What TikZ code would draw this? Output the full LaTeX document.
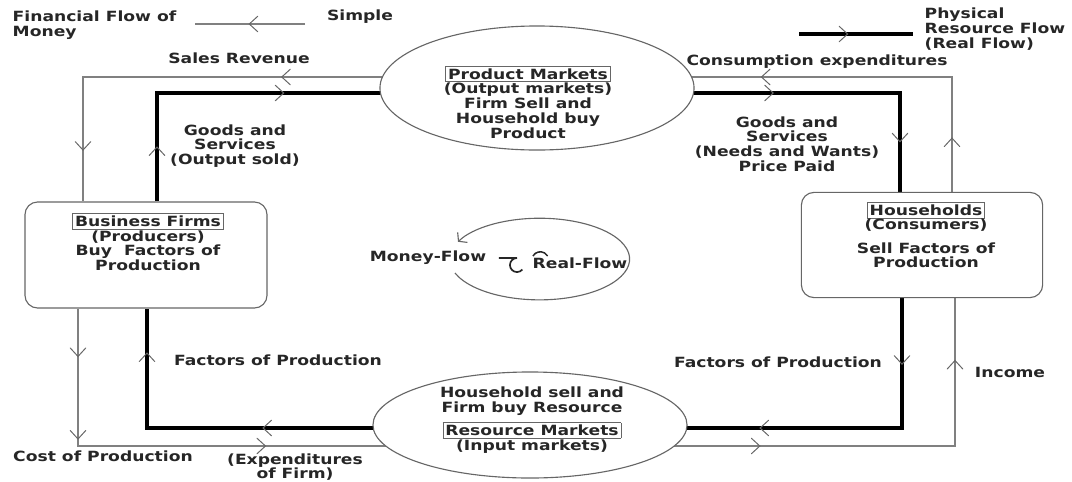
\documentclass[tikz,border=0pt]{standalone}
\usepackage{fontspec}
\setmainfont{DejaVu Sans}[FakeStretch=1.22]
\usepackage{tikz}
\usetikzlibrary{positioning,calc,shapes.geometric,decorations.markings,backgrounds,arrows.meta}
\tikzset{
    market/.style={
           ellipse,
           draw=black!60, line width=0.8pt,
           fill=white,
           inner sep=0pt,
           },
    sector/.style={
           rectangle,
           rounded corners=9pt,
           draw=black!60, line width=0.8pt,
           fill=white,
           },
    lab/.style={
           font=\bfseries\fontsize{10}{10.5}\selectfont,
           text=black!85,
           align=center,
           inner sep=1pt,
           },
    moneyflow/.style={draw=black!50, line width=0.9pt},
    realflow/.style={draw=black, line width=3pt},
    flowtip/.style={
           postaction={decorate, decoration={markings,
             mark=at position #1 with {\draw[black!60, line width=0.7pt, line cap=round]
               (-5.5pt,5.5pt) -- (0.5pt,0pt) -- (-5.5pt,-5.5pt);}}}
           },
}
\setlength{\fboxsep}{1.5pt}
\newcommand{\boxtitle}[1]{\fcolorbox{black!60}{white}{#1}}

\begin{document}
\begin{tikzpicture}[x=0.025cm, y=-0.025cm]
 \useasboundingbox (0,0) rectangle (1072,481);

 % markets (ellipses)
 \node[market, minimum width=7.85cm, minimum height=3.1cm] (pm) at (537,88) {};
 \node[lab] (pmt) at ($(pm)+(-9,14)$)
 {\boxtitle{Product Markets}\\(Output markets)\\Firm Sell and\\Household buy\\Product};

 \node[market, minimum width=7.85cm, minimum height=2.65cm] (rm) at (530,425) {};
 \node[lab] (rmt) at ($(rm)+(2,-5)$)
 {Household sell and\\Firm buy Resource\\[4pt]\boxtitle{Resource Markets}\\(Input markets)};

 % sectors (rounded boxes)
 \node[sector, minimum width=6.05cm, minimum height=2.65cm] (bf) at (146,255) {};
 \node[lab] (bft) at ($(bf)+(2,-13)$)
 {\boxtitle{Business Firms}\\(Producers)\\Buy~ Factors of\\Production};

 \node[sector, minimum width=6.03cm, minimum height=2.63cm] (hh) at (922,245) {};
 \node[lab] (hht) at ($(hh)+(4,-10)$)
 {\boxtitle{Households}\\(Consumers)\\[6pt]Sell Factors of\\Production};

 % legend
 \node[lab, align=left, anchor=west] (fin) at (11,25) {Financial Flow of\\Money};
 \node[lab] (simple) at (360,17) {Simple};
 \coordinate (sr) at (305,24);
 \coordinate (sl) at (195,24);
 \node[lab, align=left, anchor=west] (phys) at (923,29) {Physical\\Resource Flow\\(Real Flow)};
 \coordinate (rl) at (799,34);
 \coordinate (rr) at (913,34);

 % flow labels
 \node[lab] (sales) at (239,58) {Sales Revenue};
 \node[lab] (cons) at (817,62) {Consumption expenditures};
 \node[lab] (gs1) at (235,146) {Goods and\\Services\\(Output sold)};
 \node[lab] (gs2) at (787,144) {Goods and\\Services\\(Needs and Wants)\\Price Paid};
 \node[lab] (fp1) at (278,360) {Factors of Production};
 \node[lab] (fp2) at (778,362) {Factors of Production};
 \node[lab] (inc) at (1010,372) {Income};
 \node[lab] (cost) at (103,456) {Cost of Production};
 \node[lab] (exp) at (295,467) {(Expenditures\\of Firm)};

 % centre circle
 \node[lab] (mf) at (428,258) {Money-Flow};
 \node[lab] (rf) at (580,263) {Real-Flow};
 \coordinate (flow) at (540,259);
 \draw[black!60, line width=0.8pt, -{Straight Barb[length=4pt,width=10pt]}]
   ($(flow)+(-85,14)$) arc[start angle=200, end angle=515, x radius=2.25cm, y radius=1.02cm];
 \draw[black!85, line width=1.2pt]
   ($(rf.west)+(-32,-5)$) -- ++(18,0) arc[start angle=90, end angle=320, radius=5pt];
 \draw[black!85, line width=1.1pt]
   ($(rf.west)+(2,-7)$) arc[start angle=150, end angle=30, radius=6pt];

 % the paths: money (thin) and real (thick)
 \draw[moneyflow, flowtip=0.5] (sr) -- (sl);
 \draw[realflow, flowtip=0.42] (rl) -- (rr);

 \begin{pgfonlayer}{background}
 \draw[moneyflow, flowtip=0.44, flowtip=0.91] ($(pm)+(0,-11)$) -| ($(bf.north)+(-63,0)$);
 \draw[realflow, flowtip=0.11, flowtip=0.48] ($(bf.north)+(11,0)$) |- ($(pm)+(0,5)$);
 \draw[moneyflow, flowtip=0.10, flowtip=0.575] ($(hh.north)+(30,0)$) |- ($(pm)+(0,-11)$);
 \draw[realflow, flowtip=0.51, flowtip=0.89] ($(pm)+(0,5)$) -| ($(hh.north)+(-22,0)$);
 \draw[moneyflow, flowtip=0.40, flowtip=0.89] ($(rm)+(0,21)$) -| ($(hh.south)+(33,0)$);
 \draw[realflow, flowtip=0.13, flowtip=0.54] ($(hh.south)+(-20,0)$) |- ($(rm)+(0,3)$);
 \draw[realflow, flowtip=0.53, flowtip=0.91] ($(rm)+(0,3)$) -| ($(bf.south)+(1,0)$);
 \draw[moneyflow, flowtip=0.08, flowtip=0.22, flowtip=0.55] ($(bf.south)+(-68,0)$) |- ($(rm)+(0,21)$);
 \end{pgfonlayer}
\end{tikzpicture}
\end{document}
